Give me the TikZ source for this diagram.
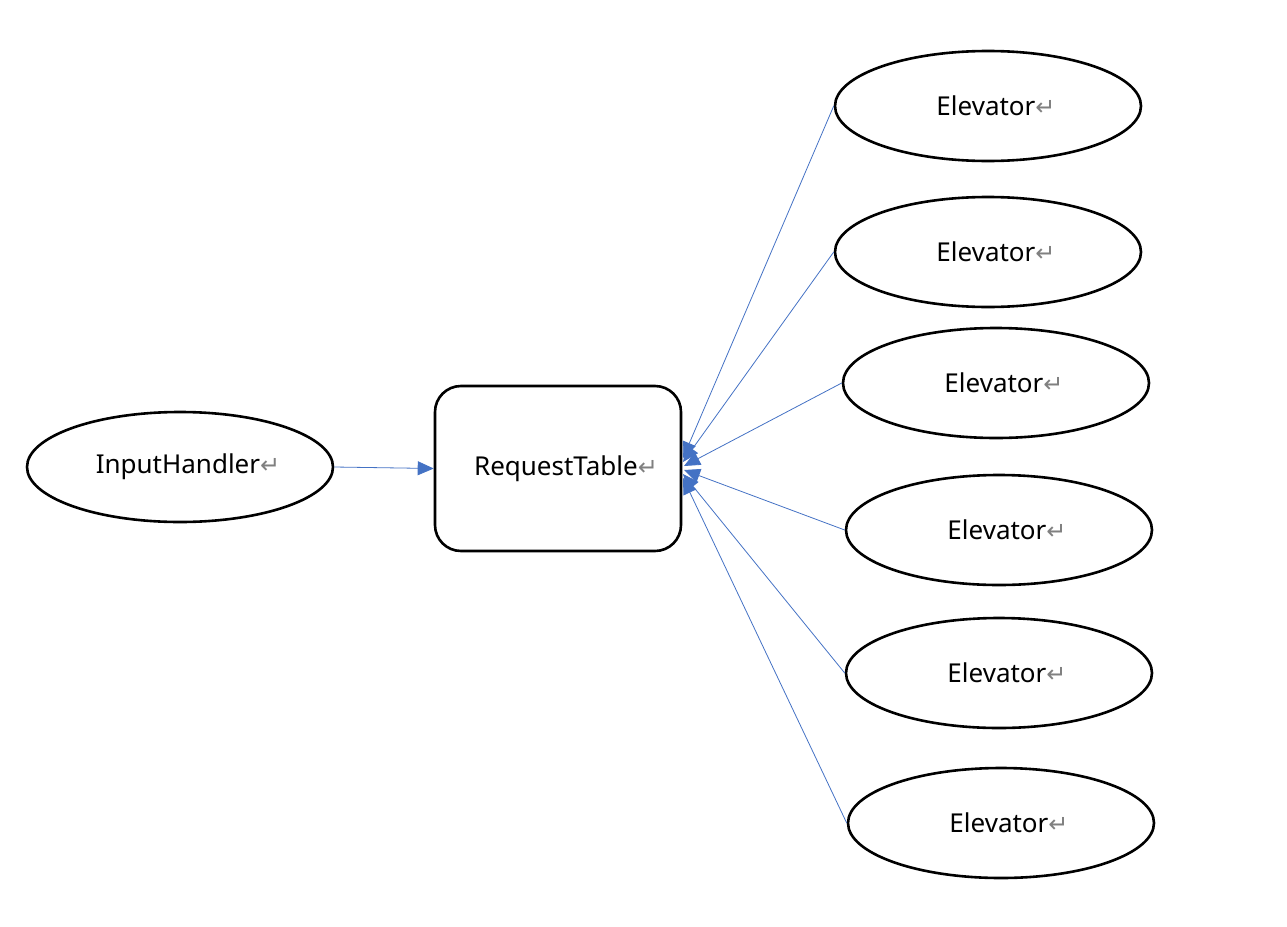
\documentclass[tikz,border=0pt]{standalone}
\usepackage{fontspec}
\setmainfont{Noto Sans}
\newfontfamily\symfont{DejaVu Sans}
\usetikzlibrary{arrows.meta,shapes.geometric}
\definecolor{linkblue}{HTML}{4472C4}
\definecolor{retgray}{HTML}{808080}
\newcommand{\ret}{{\symfont\fontsize{24}{24}\selectfont\textcolor{retgray}{↵}}}
\newcommand{\lpad}{\hspace*{16pt}}
\tikzset{
  ellnode/.style={draw=black, line width=2.6pt, ellipse, minimum width=306pt, minimum height=110pt, inner sep=0pt, font=\fontsize{26}{30}\selectfont},
  rtnode/.style={draw=black, line width=2.6pt, rounded corners=26pt, minimum width=246pt, minimum height=165pt, inner sep=0pt, font=\fontsize{26}{30}\selectfont},
  conn/.style={draw=linkblue, line width=0.8pt, -{Triangle[length=16pt,width=14pt]}},
}
\begin{document}
\begin{tikzpicture}[x=1pt,y=-1pt]
\useasboundingbox (0,0) rectangle (1287,926);
\node[ellnode] (ih) at (180,467) {\lpad InputHandler\ret};
\node[rtnode] (rt) at (558,468.5) {\lpad RequestTable\ret};
\node[ellnode] (e1) at (988,106) {\lpad Elevator\ret};
\node[ellnode] (e2) at (988,252) {\lpad Elevator\ret};
\node[ellnode] (e3) at (996,383) {\lpad Elevator\ret};
\node[ellnode] (e4) at (999,530) {\lpad Elevator\ret};
\node[ellnode] (e5) at (999,673) {\lpad Elevator\ret};
\node[ellnode] (e6) at (1001,823) {\lpad Elevator\ret};
\coordinate (t1) at (683,458);
\coordinate (t2) at (683,462);
\coordinate (t3) at (684,466);
\coordinate (t4) at (684,470);
\coordinate (t5) at (683,474);
\coordinate (t6) at (683,478);
\draw[conn] (ih.east) -- (rt.west);
\draw[conn] (e1.west) -- (t1);
\draw[conn] (e2.west) -- (t2);
\draw[conn] (e3.west) -- (t3);
\draw[conn] (e4.west) -- (t4);
\draw[conn] (e5.west) -- (t5);
\draw[conn] (e6.west) -- (t6);
\end{tikzpicture}
\end{document}
